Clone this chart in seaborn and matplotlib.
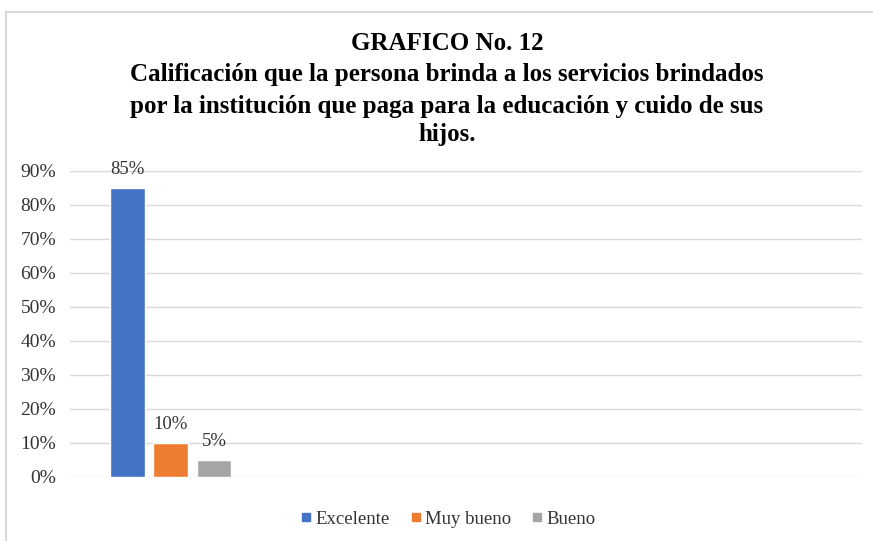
import pandas as pd
import matplotlib.pyplot as plt
import seaborn as sns
from matplotlib.lines import Line2D
from matplotlib.ticker import PercentFormatter

categorias = ["Calificación"]
series = ["Excelente", "Muy bueno", "Bueno"]
valores = [0.85, 0.10, 0.05]
colores = ["#4472C4", "#ED7D31", "#A5A5A5"]
etiquetas = ["85%", "10%", "5%"]
yticks = [0, 0.1, 0.2, 0.3, 0.4, 0.5, 0.6, 0.7, 0.8, 0.9]

df = pd.DataFrame({"cat": categorias * len(series), "serie": series, "valor": valores})

sns.set_style("white")
FUENTE = 'Liberation Serif'
plt.rcParams['font.family'] = FUENTE

fig = plt.figure(figsize=(8.73, 5.41), dpi=100)
ax = fig.add_axes([0.0802, 0.1183, 0.9068, 0.5657])

sns.barplot(data=df, x="cat", y="valor", hue="serie", hue_order=series,
            palette=colores, width=0.8, gap=0.2, saturation=1, ax=ax, legend=False)

ax.set_xlim(-0.617, 4.24)
ax.set_ylim(0, 0.9)
ax.set_yticks(yticks)
ax.yaxis.set_major_formatter(PercentFormatter(1.0, decimals=0))
ax.set_xticks([])
ax.set_xlabel("")
ax.set_ylabel("")
ax.grid(axis='y', color='#D9D9D9', linewidth=1)
ax.set_axisbelow(True)
for s in ax.spines.values():
    s.set_visible(False)
ax.tick_params(axis='y', length=0, pad=10, labelsize=14, labelcolor='#333333')

# data labels
for bar, txt in zip(ax.patches, etiquetas):
    ax.text(bar.get_x() + bar.get_width() / 2, bar.get_height() + 0.028, txt,
            ha='center', va='bottom', fontsize=13.5, color='#333333',
            family=FUENTE, clip_on=False)

# title
titulo = ["GRAFICO No. 12",
          "Calificación que la persona brinda a los servicios brindados",
          "por la institución que paga para la educación y cuido de sus",
          "hijos."]
for txt, ypx in zip(titulo, [43, 75, 106, 134]):
    fig.text(0.512, 1 - ypx / 541, txt, ha='center', va='center',
             family=FUENTE, weight='bold', fontsize=18, color='black')

# legend
handles = [Line2D([0], [0], marker='s', linestyle='', markersize=5.5,
                  markerfacecolor=c, markeredgecolor=c) for c in colores]
fig.legend(handles, series, loc='center', bbox_to_anchor=(0.512, 0.04), ncol=3,
           frameon=False, prop={'family': FUENTE, 'size': 13.5},
           handletextpad=0.1, columnspacing=1.0, handlelength=0.8,
           labelcolor='#333333')

# chart frame (top and left edges)
fig.add_artist(Line2D([6 / 873, 1], [1 - 12 / 541, 1 - 12 / 541],
                      transform=fig.transFigure, color='#D9D9D9', linewidth=1.5))
fig.add_artist(Line2D([6 / 873, 6 / 873], [0, 1 - 12 / 541],
                      transform=fig.transFigure, color='#D9D9D9', linewidth=1.5))

fig.savefig("out.png", dpi=100)
